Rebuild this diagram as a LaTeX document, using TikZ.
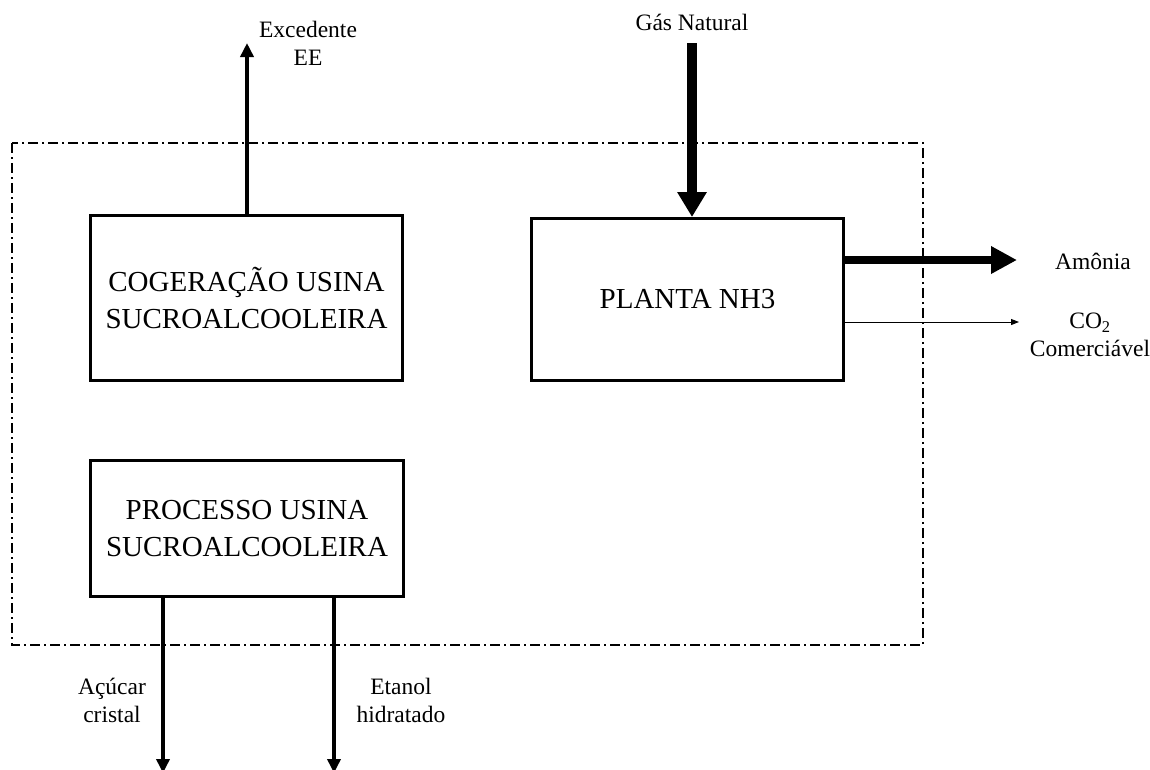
\documentclass[tikz,border=0pt]{standalone}
\usepackage{fontspec}
\setmainfont{Liberation Serif}
\usetikzlibrary{arrows.meta}
\begin{document}
\begin{tikzpicture}[x=1pt,y=-1pt,
  box/.style={draw,line width=3pt,align=center,inner sep=0pt,
    font=\fontsize{29}{37}\selectfont},
  lbl/.style={align=center,inner sep=0pt,font=\fontsize{23.5}{28}\selectfont},
  flow/.style={line width=4pt,-{Triangle[length=14pt,width=13pt]}},
  bigflow/.style={line width=10pt,-{Triangle[length=25pt,width=28pt]}},
  midflow/.style={line width=8pt,-{Triangle[length=26pt,width=26pt]}},
  thinflow/.style={line width=1pt,-{Triangle[length=8pt,width=6pt]}},
  boundary/.style={line width=1.2pt,dash pattern=on 10pt off 4pt on 2pt off 4pt}]
\useasboundingbox (0,0) rectangle (1150,769);

% system boundary
\draw[boundary] (12,143) rectangle (923,645);

% process blocks
\node[box,minimum width=312pt,minimum height=165pt] (cog) at (246.5,298)
  {COGERAÇÃO USINA\\SUCROALCOOLEIRA};
\node[box,minimum width=312pt,minimum height=162pt] (nh3) at (687.5,299.5)
  {PLANTA NH3};
\node[box,minimum width=313pt,minimum height=136pt] (proc) at (247,528.5)
  {PROCESSO USINA\\SUCROALCOOLEIRA};

% stream labels
\node[lbl] (exc) at (308,43.5) {Excedente\\EE};
\node[lbl] (gas) at (692,22) {Gás Natural};
\node[lbl] (amo) at (1093,261) {Amônia};
\node[lbl] (co2) at (1090,335) {CO\textsubscript{2}\\Comerciável};
\node[lbl] (acu) at (112,700) {Açúcar\\cristal};
\node[lbl] (eta) at (401,700) {Etanol\\hidratado};

% free ends of the streams
\coordinate (excTip) at (247,43);
\coordinate (gasTop) at (692,43);
\coordinate (amoTip) at (1017,260);
\coordinate (co2Tip) at (1019,322);
\coordinate (acuTip) at (163,773);
\coordinate (etaTip) at (334,773);

% streams
\draw[flow] (cog.north -| excTip) -- (excTip);
\draw[bigflow] (gasTop) -- (gasTop |- nh3.north);
\draw[midflow] (nh3.east |- amoTip) -- (amoTip);
\draw[thinflow] (nh3.east |- co2Tip) -- (co2Tip);
\draw[flow] (proc.south -| acuTip) -- (acuTip);
\draw[flow] (proc.south -| etaTip) -- (etaTip);
\end{tikzpicture}
\end{document}
